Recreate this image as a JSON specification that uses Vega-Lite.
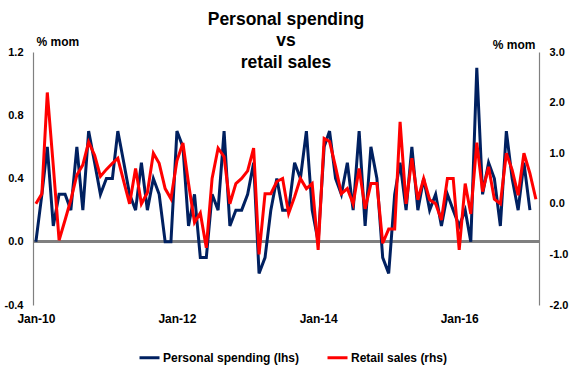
{
  "$schema": "https://vega.github.io/schema/vega-lite/v6.json",
  "width": 506,
  "height": 253,
  "autosize": {"type": "none"},
  "padding": {"left": 33, "top": 52, "right": 33, "bottom": 67},
  "background": "white",
  "config": {
    "font": "Liberation Sans",
    "view": {"stroke": null},
    "locale": {"number": {"decimal": ".", "thousands": ",", "grouping": [3], "currency": ["$", ""], "minus": "-"}},
    "axis": {"labelFontWeight": "bold", "labelColor": "black", "grid": false, "ticks": false, "titleFontWeight": "bold", "titleColor": "black", "titleFontSize": 12, "labelFontSize": 11}
  },
  "title": {
    "text": ["Personal spending", "vs", "retail sales"],
    "fontSize": 17.5,
    "fontWeight": "bold",
    "lineHeight": 21.5,
    "anchor": "middle",
    "frame": "group",
    "baseline": "bottom",
    "offset": -54,
    "color": "black"
  },
  "data": {
    "format": {"parse": {"date": "date:'%Y-%m'"}},
    "values": [
      {"date": "2010-01", "ps": 0.0, "rs": 0.0},
      {"date": "2010-02", "ps": 0.3, "rs": 0.2},
      {"date": "2010-03", "ps": 0.6, "rs": 2.2},
      {"date": "2010-04", "ps": 0.1, "rs": 0.75},
      {"date": "2010-05", "ps": 0.3, "rs": -0.72},
      {"date": "2010-06", "ps": 0.3, "rs": -0.32},
      {"date": "2010-07", "ps": 0.2, "rs": 0.08},
      {"date": "2010-08", "ps": 0.6, "rs": 0.57},
      {"date": "2010-09", "ps": 0.2, "rs": 0.77},
      {"date": "2010-10", "ps": 0.7, "rs": 1.22},
      {"date": "2010-11", "ps": 0.5, "rs": 0.96},
      {"date": "2010-12", "ps": 0.3, "rs": 0.54},
      {"date": "2011-01", "ps": 0.4, "rs": 0.68},
      {"date": "2011-02", "ps": 0.4, "rs": 0.8},
      {"date": "2011-03", "ps": 0.7, "rs": 0.9},
      {"date": "2011-04", "ps": 0.5, "rs": 0.44},
      {"date": "2011-05", "ps": 0.3, "rs": 0.0},
      {"date": "2011-06", "ps": 0.2, "rs": 0.7},
      {"date": "2011-07", "ps": 0.5, "rs": 0.0},
      {"date": "2011-08", "ps": 0.2, "rs": 0.22},
      {"date": "2011-09", "ps": 0.4, "rs": 1.0},
      {"date": "2011-10", "ps": 0.3, "rs": 0.8},
      {"date": "2011-11", "ps": 0.0, "rs": 0.3},
      {"date": "2011-12", "ps": 0.0, "rs": 0.1},
      {"date": "2012-01", "ps": 0.7, "rs": 0.85},
      {"date": "2012-02", "ps": 0.6, "rs": 1.2},
      {"date": "2012-03", "ps": 0.1, "rs": 0.4},
      {"date": "2012-04", "ps": 0.3, "rs": -0.37},
      {"date": "2012-05", "ps": -0.1, "rs": -0.18},
      {"date": "2012-06", "ps": -0.1, "rs": -0.87},
      {"date": "2012-07", "ps": 0.3, "rs": 0.5},
      {"date": "2012-08", "ps": 0.2, "rs": 1.1},
      {"date": "2012-09", "ps": 0.7, "rs": 0.93},
      {"date": "2012-10", "ps": 0.1, "rs": 0.0},
      {"date": "2012-11", "ps": 0.2, "rs": 0.4},
      {"date": "2012-12", "ps": 0.2, "rs": 0.5},
      {"date": "2013-01", "ps": 0.3, "rs": 0.65},
      {"date": "2013-02", "ps": 0.5, "rs": 1.1},
      {"date": "2013-03", "ps": -0.2, "rs": -1.0},
      {"date": "2013-04", "ps": -0.1, "rs": 0.2},
      {"date": "2013-05", "ps": 0.2, "rs": 0.2},
      {"date": "2013-06", "ps": 0.4, "rs": 0.44},
      {"date": "2013-07", "ps": 0.2, "rs": 0.5},
      {"date": "2013-08", "ps": 0.2, "rs": -0.19},
      {"date": "2013-09", "ps": 0.5, "rs": 0.14},
      {"date": "2013-10", "ps": 0.4, "rs": 0.5},
      {"date": "2013-11", "ps": 0.7, "rs": 0.3},
      {"date": "2013-12", "ps": 0.2, "rs": 0.4},
      {"date": "2014-01", "ps": 0.0, "rs": -0.91},
      {"date": "2014-02", "ps": 0.6, "rs": 1.29},
      {"date": "2014-03", "ps": 0.7, "rs": 1.23},
      {"date": "2014-04", "ps": 0.4, "rs": 0.73},
      {"date": "2014-05", "ps": 0.3, "rs": 0.2},
      {"date": "2014-06", "ps": 0.5, "rs": 0.3},
      {"date": "2014-07", "ps": 0.2, "rs": 0.0},
      {"date": "2014-08", "ps": 0.7, "rs": 0.7},
      {"date": "2014-09", "ps": 0.1, "rs": -0.1},
      {"date": "2014-10", "ps": 0.6, "rs": 0.4},
      {"date": "2014-11", "ps": 0.4, "rs": 0.4},
      {"date": "2014-12", "ps": -0.1, "rs": -0.78},
      {"date": "2015-01", "ps": -0.2, "rs": -0.5},
      {"date": "2015-02", "ps": 0.3, "rs": -0.5},
      {"date": "2015-03", "ps": 0.5, "rs": 1.62},
      {"date": "2015-04", "ps": 0.2, "rs": 0.0},
      {"date": "2015-05", "ps": 0.6, "rs": 0.9},
      {"date": "2015-06", "ps": 0.2, "rs": 0.08},
      {"date": "2015-07", "ps": 0.4, "rs": 0.5},
      {"date": "2015-08", "ps": 0.2, "rs": 0.08},
      {"date": "2015-09", "ps": 0.3, "rs": 0.0},
      {"date": "2015-10", "ps": 0.1, "rs": -0.32},
      {"date": "2015-11", "ps": 0.3, "rs": 0.5},
      {"date": "2015-12", "ps": 0.2, "rs": 0.5},
      {"date": "2016-01", "ps": 0.1, "rs": -0.91},
      {"date": "2016-02", "ps": 0.2, "rs": 0.4},
      {"date": "2016-03", "ps": 0.0, "rs": -0.2},
      {"date": "2016-04", "ps": 1.1, "rs": 1.21},
      {"date": "2016-05", "ps": 0.3, "rs": 0.24},
      {"date": "2016-06", "ps": 0.5, "rs": 0.73},
      {"date": "2016-07", "ps": 0.4, "rs": 0.09},
      {"date": "2016-08", "ps": 0.1, "rs": 0.0},
      {"date": "2016-09", "ps": 0.7, "rs": 1.0},
      {"date": "2016-10", "ps": 0.4, "rs": 0.67},
      {"date": "2016-11", "ps": 0.2, "rs": 0.17},
      {"date": "2016-12", "ps": 0.5, "rs": 1.0},
      {"date": "2017-01", "ps": 0.2, "rs": 0.6},
      {"date": "2017-02", "ps": null, "rs": 0.09}
    ]
  },
  "layer": [
    {
      "layer": [
        {
          "mark": {"type": "rule", "color": "#808080", "strokeWidth": 2},
          "encoding": {
            "y": {"datum": 0, "type": "quantitative", "scale": {"domain": [-0.4, 1.2]}, "title": "% mom"}
          }
        },
        {
          "mark": {"type": "line", "strokeWidth": 3, "strokeJoin": "miter"},
          "encoding": {
            "x": {
              "field": "date", "type": "temporal",
              "scale": {"domain": [{"year": 2009, "month": 12, "date": 17}, {"year": 2017, "month": 2, "date": 17}]},
              "axis": {
                "values": [{"year": 2010, "month": 1, "date": 1}, {"year": 2012, "month": 1, "date": 1}, {"year": 2014, "month": 1, "date": 1}, {"year": 2016, "month": 1, "date": 1}],
                "format": "%b-%y", "labelFontSize": 12, "domain": false, "ticks": false,
                "labelPadding": 8, "title": null, "labelFlush": false, "labelOverlap": false
              }
            },
            "y": {
              "field": "ps", "type": "quantitative",
              "scale": {"domain": [-0.4, 1.2]},
              "title": "% mom",
              "axis": {
                "orient": "left", "values": [-0.4, 0, 0.4, 0.8, 1.2], "format": ".1f",
                "titleAngle": 0, "titleAlign": "left", "titleBaseline": "middle", "titleX": 3, "titleY": -11,
                "domainColor": "#808080", "domainWidth": 1.2, "labelPadding": 10
              }
            },
            "color": {
              "datum": "Personal spending (lhs)",
              "scale": {"domain": ["Personal spending (lhs)", "Retail sales (rhs)"], "range": ["#002060", "#FF0000"]},
              "legend": {
                "orient": "none", "legendX": 105, "legendY": 294, "direction": "horizontal", "title": null,
                "symbolType": "stroke", "symbolSize": 400, "symbolStrokeWidth": 3,
                "labelFontSize": 12, "labelFontWeight": "bold", "labelColor": "black",
                "columnPadding": 21, "labelOffset": 2
              }
            }
          }
        }
      ]
    },
    {
      "mark": {"type": "line", "strokeWidth": 3, "strokeJoin": "miter"},
      "encoding": {
        "x": {"field": "date", "type": "temporal"},
        "y": {
          "field": "rs", "type": "quantitative",
          "scale": {"domain": [-2, 3]},
          "title": "% mom",
          "axis": {
            "orient": "right", "values": [-2, -1, 0, 1, 2, 3], "format": ".1f",
            "titleAngle": 0, "titleAlign": "right", "titleBaseline": "middle", "titleX": -4, "titleY": -8,
            "domainColor": "#808080", "domainWidth": 1.2, "labelPadding": 10
          }
        },
        "color": {"datum": "Retail sales (rhs)"}
      }
    }
  ],
  "resolve": {"scale": {"y": "independent"}}
}
